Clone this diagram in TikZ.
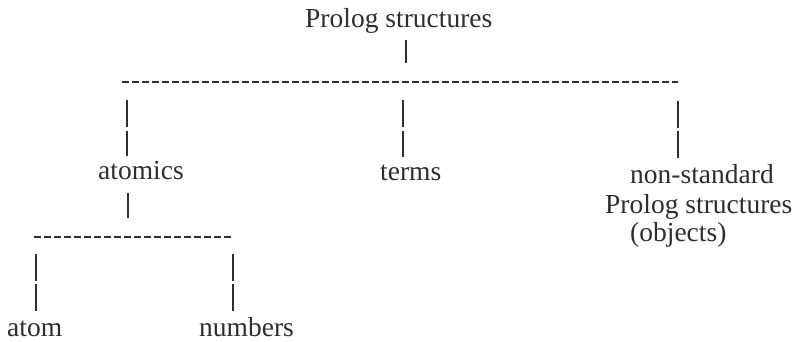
\documentclass[tikz,border=0pt]{standalone}
\usepackage{fontspec}
\setmainfont{Liberation Serif}
\begin{document}
\begin{tikzpicture}[x=1pt,y=-1pt,
  lbl/.style={anchor=base west,inner sep=0pt,text=ink,font=\fontsize{27.5}{29}\selectfont},
  bar/.style={draw=ink,line width=1.8pt},
  dashline/.style={draw=ink,line width=1.8pt,dash pattern=on 7pt off 3pt}]
\definecolor{ink}{HTML}{2E2E2E}
\useasboundingbox (0,0) rectangle (800,341);
% texts
\node[lbl] (root) at (305,27) {Prolog structures};
\node[lbl] (atomics) at (98,179) {atomics};
\node[lbl] (terms) at (380,180) {terms};
\node[lbl] (ns1) at (630,183) {non-standard};
\node[lbl] (ns2) at (605,213) {Prolog structures};
\node[lbl] (ns3) at (630,241) {(objects)};
\node[lbl] (atom) at (7,336) {atom};
\node[lbl] (numbers) at (199,336) {numbers};
% coordinates of the connector pieces
\coordinate (r1) at (406,40);
\coordinate (r2) at (406,63);
\coordinate (d1a) at (122,82);
\coordinate (d1b) at (678,82);
\coordinate (a1) at (127,100); \coordinate (a2) at (127,127);
\coordinate (a3) at (127,131); \coordinate (a4) at (127,156);
\coordinate (t1) at (403,100); \coordinate (t2) at (403,127);
\coordinate (t3) at (403,131); \coordinate (t4) at (403,157);
\coordinate (n1) at (678,101); \coordinate (n2) at (678,128);
\coordinate (n3) at (678,131); \coordinate (n4) at (678,158);
\coordinate (s1) at (128,193); \coordinate (s2) at (128,218);
\coordinate (d2a) at (34,237);
\coordinate (d2b) at (234,237);
\coordinate (b1) at (36,254); \coordinate (b2) at (36,281);
\coordinate (b3) at (36,284); \coordinate (b4) at (36,311);
\coordinate (c1) at (233,254); \coordinate (c2) at (233,281);
\coordinate (c3) at (233,284); \coordinate (c4) at (233,311);
% connectors
\draw[bar] (r1) -- (r2);
\draw[dashline] (d1a) -- (d1b);
\draw[bar] (a1) -- (a2); \draw[bar] (a3) -- (a4);
\draw[bar] (t1) -- (t2); \draw[bar] (t3) -- (t4);
\draw[bar] (n1) -- (n2); \draw[bar] (n3) -- (n4);
\draw[bar] (s1) -- (s2);
\draw[dashline] (d2a) -- (d2b);
\draw[bar] (b1) -- (b2); \draw[bar] (b3) -- (b4);
\draw[bar] (c1) -- (c2); \draw[bar] (c3) -- (c4);
\end{tikzpicture}
\end{document}
